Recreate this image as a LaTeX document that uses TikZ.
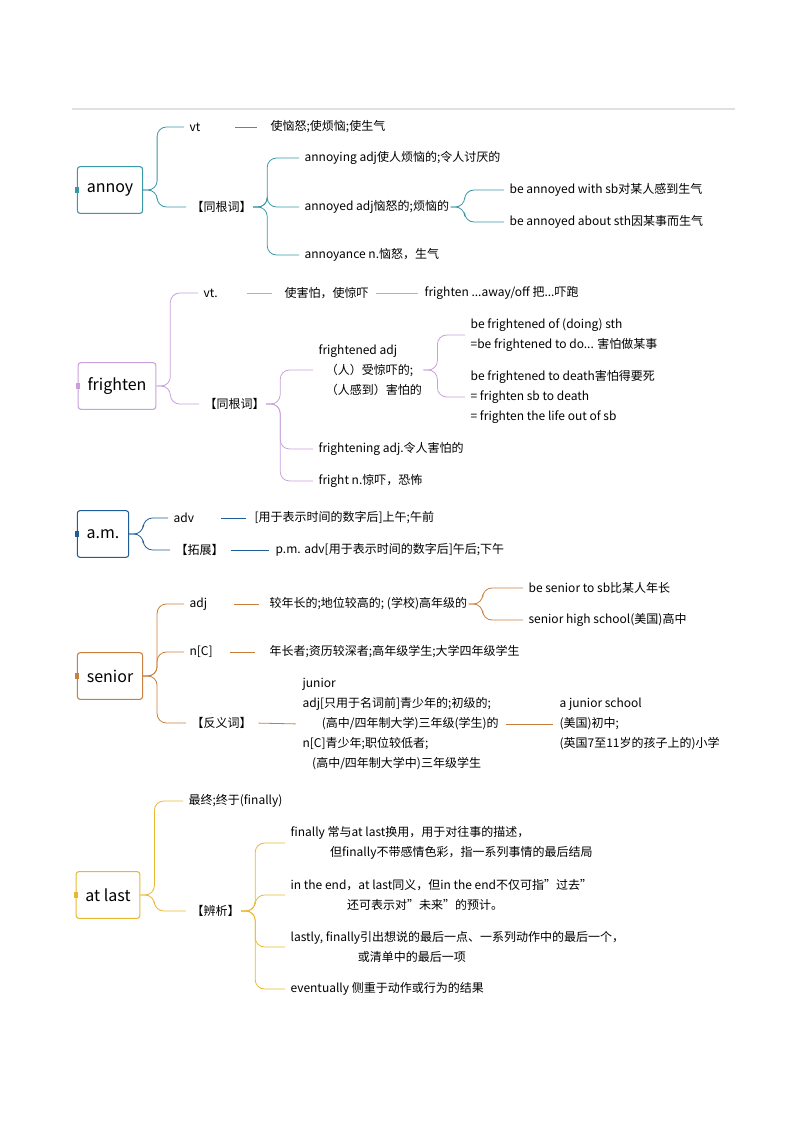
\documentclass[tikz,border=0pt]{standalone}
\usepackage{fontspec}
\setmainfont{Noto Sans CJK SC}
\usetikzlibrary{positioning}
\definecolor{cannoy}{HTML}{3A97A5}
\definecolor{cfright}{HTML}{C9A0DC}
\definecolor{cam}{HTML}{1F5D99}
\definecolor{csenior}{HTML}{C8803E}
\definecolor{clast}{HTML}{E8B830}
\tikzset{
  root/.style={draw=#1,rounded corners=2pt,line width=0.8pt,minimum height=35pt,inner xsep=7pt,font=\fontsize{12}{14}\selectfont},
  txt/.style={anchor=west,inner xsep=1pt,inner ysep=1pt,align=left,font=\fontsize{9}{15}\selectfont},
  tab/.style={fill=#1,minimum width=3pt,minimum height=5pt,inner sep=0pt},
  ln/.style={draw=#1,line width=0.6pt,shorten <=4pt,shorten >=4pt},
  br/.style={draw=#1,line width=0.6pt,rounded corners=7pt}
}
\newcommand\brto[3]{\draw[br=#1] (#2.east) -- ++(14,0) |- ([xshift=-3pt]#3.west);}
\begin{document}
\begin{tikzpicture}[x=0.75pt,y=-0.75pt]
\useasboundingbox (0,0) rectangle (794,1123);
\draw[black!12,line width=0.8pt] (72,109) -- (735,109);

% annoy
\node[root=cannoy] (annoy) at (110,190) {annoy};
\node[tab=cannoy] at (annoy.west) {};
\node[txt] (annoyVt) at (188,127) {vt};
\node[txt] (annoyVtM) at (269,127) {使恼怒;使烦恼;使生气};
\node[txt] (annoyRel) at (190,207) {【同根词】};
\node[txt] (annoying) at (303,158) {annoying adj使人烦恼的;令人讨厌的};
\node[txt] (annoyed) at (303,207) {annoyed adj恼怒的;烦恼的};
\node[txt] (annoyance) at (303,255) {annoyance n.恼怒，生气};
\node[txt] (annoyWith) at (508,190) {be annoyed with sb对某人感到生气};
\node[txt] (annoyAbout) at (508,222) {be annoyed about sth因某事而生气};
\brto{cannoy}{annoy}{annoyVt}
\brto{cannoy}{annoy}{annoyRel}
\draw[ln=cannoy] (annoyVt.east) ++(28,0) -- ++(32,0);
\foreach \c in {annoying,annoyed,annoyance} {\brto{cannoy}{annoyRel}{\c}}
\foreach \c in {annoyWith,annoyAbout} {\brto{cannoy}{annoyed}{\c}}

% frighten
\node[root=cfright] (fright) at (117,386) {frighten};
\node[tab=cfright] at (fright.west) {};
\node[txt] (frightVt) at (202,293) {vt.};
\node[txt] (frightVtM) at (283,293) {使害怕，使惊吓};
\node[txt] (frightAway) at (423,293) {frighten ...away/off 把...吓跑};
\node[txt] (frightRel) at (203,404) {【同根词】};
\node[txt] (frightened) at (317,370) {frightened adj\\\hspace{0.6em}（人）受惊吓的;\\\hspace{0.6em}（人感到）害怕的};
\node[txt] (frightening) at (317,449) {frightening adj.令人害怕的};
\node[txt] (frightN) at (317,481) {fright n.惊吓，恐怖};
\node[txt] (frightOf) at (469,335) {be frightened of (doing) sth\\=be frightened to do... 害怕做某事};
\node[txt] (frightDeath) at (469,397) {be frightened to death害怕得要死\\= frighten sb to death\\= frighten the life out of sb};
\brto{cfright}{fright}{frightVt}
\brto{cfright}{fright}{frightRel}
\draw[ln=cfright] (frightVt.east) ++(22,0) -- ++(36,0);
\draw[ln=cfright] (frightVtM.east) -- (frightAway.west);
\foreach \c in {frightened,frightening,frightN} {\brto{cfright}{frightRel}{\c}}
\foreach \c in {frightOf,frightDeath} {\brto{cfright}{frightened}{\c}}

% a.m.
\node[root=cam] (am) at (103,534) {a.m.};
\node[tab=cam] at (am.west) {};
\node[txt] (amAdv) at (172,518) {adv};
\node[txt] (amAdvM) at (253,518) {[用于表示时间的数字后]上午;午前};
\node[txt] (amExt) at (174,550) {【拓展】};
\node[txt] (amPm) at (274,550) {p.m. adv[用于表示时间的数字后]午后;下午};
\brto{cam}{am}{amAdv}
\brto{cam}{am}{amExt}
\draw[ln=cam] (amAdv.east) ++(20,0) -- ++(36,0);
\draw[ln=cam] (amExt.east) -- (amPm.west);

% senior
\node[root=csenior] (senior) at (110,676) {senior};
\node[tab=csenior] at (senior.west) {};
\node[txt] (senAdj) at (188,604) {adj};
\node[txt] (senAdjM) at (268,604) {较年长的;地位较高的; (学校)高年级的};
\node[txt] (senTo) at (527,588) {be senior to sb比某人年长};
\node[txt] (senHigh) at (527,620) {senior high school(美国)高中};
\node[txt] (senN) at (188,652) {n[C]};
\node[txt] (senNM) at (268,652) {年长者;资历较深者;高年级学生;大学四年级学生};
\node[txt] (senAnt) at (190,723) {【反义词】};
\node[txt] (junior) at (301,724) {junior\\adj[只用于名词前]青少年的;初级的;\\\hspace{1.6em}(高中/四年制大学)三年级(学生)的\\n[C]青少年;职位较低者;\\\hspace{0.8em}(高中/四年制大学中)三年级学生};
\node[txt] (junSchool) at (558,724) {a junior school\\(美国)初中;\\(英国7至11岁的孩子上的)小学};
\brto{csenior}{senior}{senAdj}
\brto{csenior}{senior}{senN}
\brto{csenior}{senior}{senAnt}
\draw[ln=csenior] (senAdj.east) ++(20,0) -- ++(36,0);
\draw[ln=csenior] (senN.east) ++(10,0) -- ++(36,0);
\draw[ln=csenior] (senAnt.east) -- (junior.west);
\draw[ln=csenior] (junior.east) -- (junSchool.west);
\foreach \c in {senTo,senHigh} {\brto{csenior}{senAdjM}{\c}}

% at last
\node[root=clast] (last) at (108,895) {at last};
\node[tab=clast] at (last.west) {};
\node[txt] (lastM) at (187,801) {最终;终于(finally)};
\node[txt] (lastDis) at (190,911) {【辨析】};
\node[txt] (lastFin) at (289,843) {finally 常与at last换用，用于对往事的描述，\\\hspace{3.3em}但finally不带感情色彩，指一系列事情的最后结局};
\node[txt] (lastEnd) at (289,895) {in the end，at last同义，但in the end不仅可指"过去"\\\hspace{4.7em}还可表示对"未来"的预计。};
\node[txt] (lastLy) at (289,947) {lastly, finally引出想说的最后一点、一系列动作中的最后一个，\\\hspace{5.6em}或清单中的最后一项};
\node[txt] (lastEv) at (289,989) {eventually 侧重于动作或行为的结果};
\brto{clast}{last}{lastM}
\brto{clast}{last}{lastDis}
\foreach \c in {lastFin,lastEnd,lastLy,lastEv} {\brto{clast}{lastDis}{\c}}
\end{tikzpicture}
\end{document}
